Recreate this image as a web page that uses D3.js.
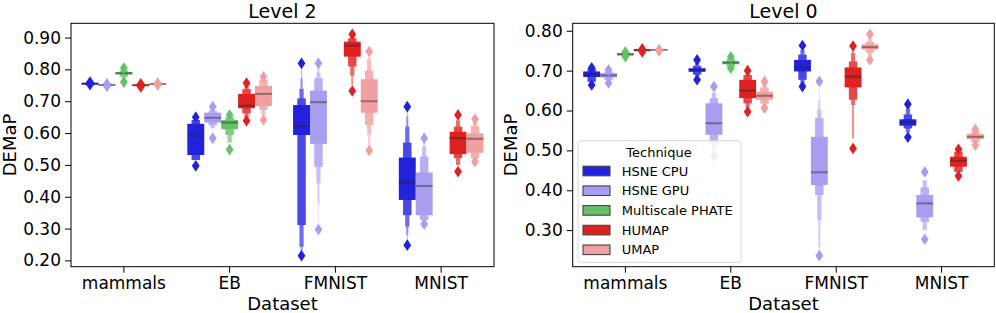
<!DOCTYPE html>
<html>
<head>
<meta charset="utf-8">
<script src="https://cdn.jsdelivr.net/npm/d3@7"></script>
<style>
	body { margin: 0; background: #fff; }
	svg { display: block; font-family: "DejaVu Sans", sans-serif; }
</style>
</head>
<body>
<svg width="996" height="313"></svg>
<script>
// data........................................................................

var datasets = ["mammals", "EB", "FMNIST", "MNIST"],
	techniques = ["HSNE CPU", "HSNE GPU", "Multiscale PHATE", "HUMAP", "UMAP"],
	palette = ["#2222dd", "#a89ef0", "#66c266", "#de2222", "#f0a0a0"];

// rows = technique, columns = dataset ; null when the technique has no run
var l2Median = [
	[0.755, 0.592, 0.622, 0.444],
	[0.751, 0.648, 0.697, 0.434],
	[0.788, 0.633, null, null],
	[0.750, 0.686, 0.875, 0.584],
	[0.754, 0.723, 0.700, 0.582]
];
// letter value boxes, inner to outer
var l2Boxes = [
	[[[0.752, 0.758], [0.750, 0.760]],
	 [[0.531, 0.629], [0.515, 0.641]],
	 [[0.594, 0.688], [0.311, 0.709], [0.243, 0.739], [0.232, 0.772], [0.228, 0.805]],
	 [[0.390, 0.523], [0.342, 0.570], [0.306, 0.620], [0.280, 0.652], [0.260, 0.670]]],
	[[[0.749, 0.753], [0.747, 0.755]],
	 [[0.633, 0.664], [0.625, 0.670], [0.615, 0.677]],
	 [[0.566, 0.733], [0.494, 0.772], [0.442, 0.790], [0.379, 0.804], [0.320, 0.810]],
	 [[0.342, 0.476], [0.327, 0.526], [0.320, 0.557], [0.318, 0.570]]],
	[[[0.784, 0.792], [0.777, 0.797], [0.770, 0.800]],
	 [[0.612, 0.641], [0.594, 0.650], [0.570, 0.653]],
	 null, null],
	[[[0.748, 0.753], [0.746, 0.755]],
	 [[0.678, 0.723], [0.662, 0.738], [0.650, 0.748]],
	 [[0.840, 0.887], [0.809, 0.898], [0.780, 0.905], [0.750, 0.908]],
	 [[0.534, 0.604], [0.521, 0.620], [0.500, 0.640]]],
	[[[0.752, 0.756], [0.750, 0.758]],
	 [[0.685, 0.748], [0.673, 0.767], [0.657, 0.772]],
	 [[0.664, 0.769], [0.625, 0.796], [0.594, 0.832], [0.560, 0.845]],
	 [[0.538, 0.599], [0.521, 0.622], [0.515, 0.635]]]
];
var l2Outliers = [
	[[0.760, 0.752], [0.650, 0.497], [0.819, 0.215], [0.683, 0.248]],
	[[0.755, 0.747], [0.683, 0.584], [0.819, 0.297], [0.584, 0.314]],
	[[0.804, 0.760], [0.657, 0.548], null, null],
	[[0.755, 0.745], [0.757, 0.639], [0.910, 0.732], [0.657, 0.479]],
	[[0.757, 0.751], [0.777, 0.641], [0.856, 0.545], [0.644, 0.510]]
];

var l0Median = [
	[0.691, 0.702, 0.708, 0.570],
	[0.688, 0.568, 0.445, 0.367],
	[0.741, 0.720, null, null],
	[0.751, 0.650, 0.685, 0.474],
	[0.752, 0.637, 0.759, 0.534]
];
var l0Boxes = [
	[[[0.684, 0.698], [0.672, 0.705]],
	 [[0.697, 0.706], [0.690, 0.712], [0.685, 0.720]],
	 [[0.698, 0.727], [0.677, 0.740], [0.668, 0.752]],
	 [[0.562, 0.578], [0.555, 0.590], [0.545, 0.605]]],
	[[[0.683, 0.694], [0.676, 0.698]],
	 [[0.539, 0.618], [0.518, 0.631], [0.500, 0.645]],
	 [[0.413, 0.534], [0.388, 0.581], [0.325, 0.602], [0.258, 0.627], [0.245, 0.655]],
	 [[0.332, 0.388], [0.321, 0.407], [0.300, 0.425]]],
	[[[0.738, 0.744], [0.736, 0.746]],
	 [[0.716, 0.724], [0.710, 0.730]],
	 null, null],
	[[[0.749, 0.754]],
	 [[0.631, 0.677], [0.618, 0.689], [0.607, 0.695]],
	 [[0.658, 0.708], [0.627, 0.723], [0.614, 0.744], [0.530, 0.755]],
	 [[0.459, 0.484], [0.446, 0.497]]],
	[[[0.751, 0.754]],
	 [[0.627, 0.647], [0.617, 0.658], [0.610, 0.665]],
	 [[0.753, 0.766], [0.745, 0.772], [0.738, 0.780]],
	 [[0.528, 0.541], [0.520, 0.548]]]
];
var l0Outliers = [
	[[0.707, 0.664], [0.727, 0.677], [0.763, 0.660], [0.616, 0.533]],
	[[0.702, 0.669], [0.660, 0.486], [0.673, 0.236], [0.446, 0.277]],
	[[0.747, 0.735], [0.735, 0.706], null, null],
	[[0.755, 0.747], [0.700, 0.597], [0.762, 0.505], [0.503, 0.436]],
	[[0.753, 0.749], [0.673, 0.606], [0.791, 0.727], [0.553, 0.513]]
];

var l2Ticks = [0.20, 0.30, 0.40, 0.50, 0.60, 0.70, 0.80, 0.90],
	l0Ticks = [0.30, 0.40, 0.50, 0.60, 0.70, 0.80];

// drawing.....................................................................

var svg = d3.select("svg"),
	plotTop = 23.3, plotBottom = 266.7,
	diamond = "M0,-5.8L3.9,0L0,5.8L-3.9,0Z";

drawPanel({left: 71, right: 494, title: "Level 2", ylab: 16,
	median: l2Median, boxes: l2Boxes, out: l2Outliers, ticks: l2Ticks});
drawPanel({left: 572.7, right: 994.3, title: "Level 0", ylab: 517,
	median: l0Median, boxes: l0Boxes, out: l0Outliers, ticks: l0Ticks});
drawLegend(578, 140.7);

function drawPanel(p){
	var g = svg.append("g");

	// y extent from every drawn value, padded like matplotlib
	var vals = [];
	p.out.forEach(function(r){ r.forEach(function(c){ if(c) vals = vals.concat(c); }); });
	var ext = d3.extent(vals), pad = (ext[1] - ext[0]) * 0.05;

	var x = d3.scaleBand().domain(datasets).range([p.left, p.right]).padding(0),
		y = d3.scaleLinear().domain([ext[0] - pad, ext[1] + pad]).range([plotBottom, plotTop]),
		hue = d3.scaleBand().domain(techniques)
			.range([-0.4 * x.bandwidth(), 0.4 * x.bandwidth()]),
		w = hue.bandwidth();

	// boxes, outer first
	techniques.forEach(function(t, ti){
		datasets.forEach(function(d, di){
			var bx = p.boxes[ti][di];
			if(!bx) return;
			var cx = x(d) + x.bandwidth() / 2 + hue(t) + w / 2;
			var cg = g.append("g");
			for(var k = bx.length - 1; k >= 0; k--){
				var bw = w / Math.pow(2, k);
				cg.append("rect")
					.attr("x", cx - bw / 2)
					.attr("width", bw)
					.attr("y", y(bx[k][1]))
					.attr("height", Math.max(0.8, y(bx[k][0]) - y(bx[k][1])))
					.attr("fill", d3.interpolateRgb(palette[ti], "#fff")(Math.min(0.75, 0.17 * k)));
			}
			cg.append("line")
				.attr("x1", cx - w / 2).attr("x2", cx + w / 2)
				.attr("y1", y(p.median[ti][di])).attr("y2", y(p.median[ti][di]))
				.attr("stroke", "#262626").attr("stroke-opacity", 0.45)
				.attr("stroke-width", 2);
			cg.selectAll("path").data(p.out[ti][di]).enter().append("path")
				.attr("d", diamond)
				.attr("transform", function(v){ return "translate(" + cx + "," + y(v) + ")"; })
				.attr("fill", palette[ti]);
		});
	});

	// axes
	var ax = g.append("g").attr("transform", "translate(0," + plotBottom + ")")
		.call(d3.axisBottom(x).tickSize(6).tickPadding(4).tickSizeOuter(0));
	var ay = g.append("g").attr("transform", "translate(" + p.left + ",0)")
		.call(d3.axisLeft(y).tickValues(p.ticks).tickFormat(d3.format(".2f"))
			.tickSize(6).tickPadding(4).tickSizeOuter(0));
	[ax, ay].forEach(function(a){
		a.attr("font-size", 17).attr("font-family", "DejaVu Sans");
		a.select(".domain").remove();
		a.selectAll("text").attr("fill", "#000");
		a.selectAll("line").attr("stroke", "#000").attr("stroke-width", 1);
	});

	g.append("rect")
		.attr("x", p.left).attr("y", plotTop)
		.attr("width", p.right - p.left).attr("height", plotBottom - plotTop)
		.attr("fill", "none").attr("stroke", "#000").attr("stroke-width", 1);

	g.append("text")
		.attr("x", (p.left + p.right) / 2).attr("y", 17.6)
		.attr("text-anchor", "middle").attr("font-size", 19)
		.text(p.title);
	g.append("text")
		.attr("x", (p.left + p.right) / 2).attr("y", 309.5)
		.attr("text-anchor", "middle").attr("font-size", 18)
		.text("Dataset");
	g.append("text")
		.attr("transform", "translate(" + p.ylab + "," + (plotTop + plotBottom) / 2 + ") rotate(-90)")
		.attr("text-anchor", "middle").attr("font-size", 18)
		.text("DEMaP");
}

function drawLegend(lx, ly){
	var lg = svg.append("g").attr("transform", "translate(" + lx + "," + ly + ")");
	lg.append("rect")
		.attr("width", 163).attr("height", 121.6).attr("rx", 3)
		.attr("fill", "#fff").attr("fill-opacity", 0.8)
		.attr("stroke", "#d6d6d6").attr("stroke-width", 1);
	lg.append("text")
		.attr("x", 81).attr("y", 16)
		.attr("text-anchor", "middle").attr("font-size", 13)
		.text("Technique");
	var row = lg.selectAll(".row").data(techniques).enter().append("g")
		.attr("transform", function(d, i){ return "translate(0," + (30.3 + i * 19.7) + ")"; });
	row.append("rect")
		.attr("x", 5).attr("y", -4.8).attr("width", 27).attr("height", 9.6)
		.attr("fill", function(d, i){ return palette[i]; })
		.attr("stroke", "#444").attr("stroke-width", 1.1);
	row.append("text")
		.attr("x", 43.7).attr("y", 4.6).attr("font-size", 13)
		.text(function(d){ return d; });
}
</script>
</body>
</html>
